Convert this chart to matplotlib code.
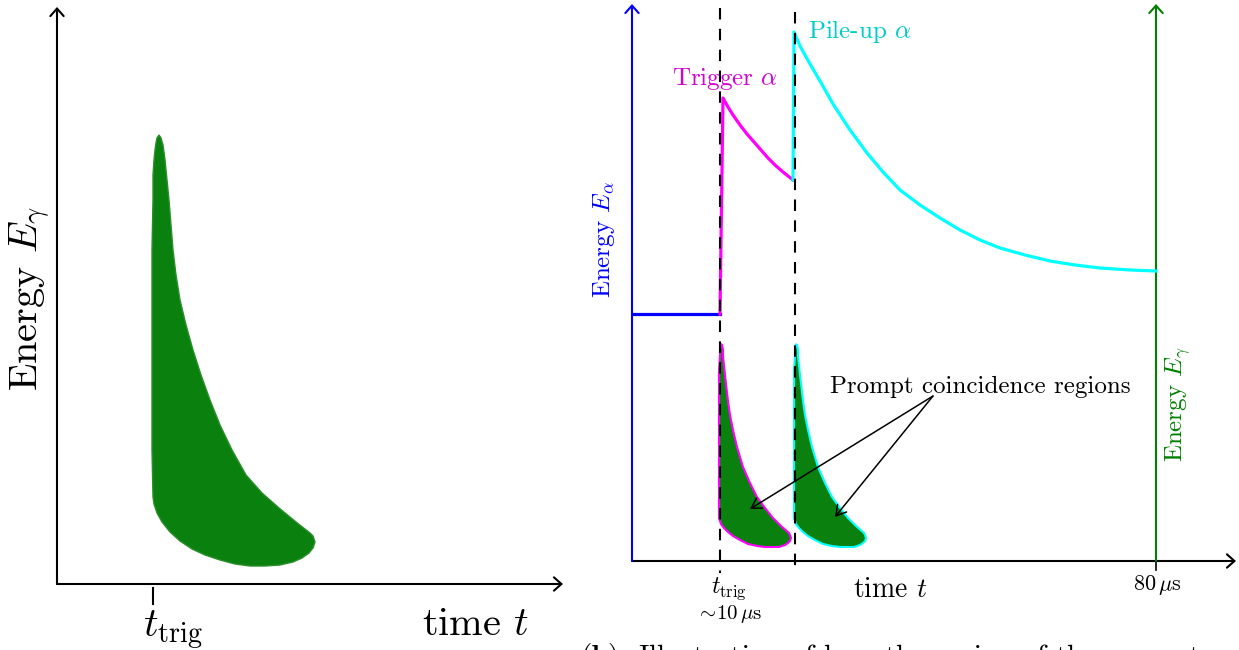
import matplotlib.pyplot as plt

plt.rcParams['font.family'] = ['cmr10', 'DejaVu Serif']
plt.rcParams['mathtext.fontset'] = 'cm'
plt.rcParams['axes.unicode_minus'] = False

W, H = 1239, 650

# ---- left panel: single prompt gamma region (arbitrary units)
left_t_trig = 96
left_blob_t = [96, 95, 95, 95, 95, 95, 96, 96, 97, 98, 99, 100, 102,
               104, 106, 108, 110, 112, 114, 116, 119, 123, 129, 136, 144,
               153, 163, 175, 189, 205, 222, 239, 253,
               256, 258, 256, 252,
               245, 236, 223, 208, 193, 178, 163, 148, 135, 123, 113, 105,
               100, 97]
left_blob_E = [87, 134, 184, 234, 284, 334, 384, 409, 424, 434, 441, 446, 449,
               446, 439, 424, 404, 384, 359, 334, 309, 284, 259, 234, 209,
               184, 159, 134, 109, 91, 76, 62, 51,
               48, 42, 36, 31,
               26, 22, 19, 18, 18, 20, 24, 29, 35, 43, 52, 62,
               71, 80]

# ---- right panel (arbitrary time / energy units)
base_t = [0, 88]
base_E = [247, 247]
trig_t = [88, 91, 96, 101, 108, 115, 122, 129, 136, 143, 151, 161]
trig_E = [247, 463, 454, 446, 436, 427, 419, 411, 403, 396, 389, 381]
pile_t = [161, 162, 168, 178, 188, 201, 218, 235, 251, 268, 288, 308, 328,
          348, 368, 393, 418, 443, 468, 498, 524]
pile_E = [381, 529, 515, 497, 480, 457, 431, 408, 389, 371, 356, 343, 331,
          321, 313, 306, 300, 296, 293, 291, 290]
t_trig = 88
t_pile = 163
t_80us = 524
# prompt region shape relative to alpha onset
blob_t = [-1, -1, -1, -1, -1, 0, 0, 1, 2,
          3, 3, 5, 8, 10, 13, 17, 23, 30, 37, 45, 53, 61, 69,
          70, 71, 70, 68,
          65, 59, 53, 45, 37, 28, 20, 13, 8, 4, 1]
blob_E = [43, 81, 121, 161, 191, 205, 212, 217, 216,
          211, 205, 186, 160, 146, 131, 114, 94, 78, 64, 53, 43, 35, 28,
          26, 23, 20, 18,
          16, 14, 14, 14, 15, 17, 21, 25, 29, 33, 37]
blob_onsets = [t_trig, t_pile]
blob_edges = ['magenta', 'cyan']
label_xy = (301, 165)
arrow_targets = [(118, 52), (203, 44)]

GREEN = '#0a800e'

fig = plt.figure(figsize=(W / 100, H / 100), dpi=100)

def arrow(ax, x0, y0, x1, y1, color='k', lw=1.5, ms=12):
    ax.annotate('', xy=(x1, y1), xytext=(x0, y0), annotation_clip=False,
                arrowprops=dict(arrowstyle='->,head_length=0.45,head_width=0.4',
                                lw=lw, color=color, shrinkA=0, shrinkB=0,
                                mutation_scale=ms))

# left
ax1 = fig.add_axes([57 / W, (H - 584) / H, 505 / W, 576 / H])
ax1.set_xlim(0, 505)
ax1.set_ylim(0, 576)
ax1.axis('off')
arrow(ax1, 0, 0, 506, 0)
arrow(ax1, 0, 0, 0, 577)
ax1.fill(left_blob_t, left_blob_E, facecolor=GREEN, edgecolor='#2a8f2a', lw=1)
ax1.plot([left_t_trig, left_t_trig], [-4, -20], color='k', lw=1.5, clip_on=False)
ax1.text(86, -53, r'$t_{\mathrm{trig}}$', ha='left', va='baseline', fontsize=29)
ax1.text(365, -51, r'time $t$', ha='left', va='baseline', fontsize=29)
ax1.text(-27, 286, r'Energy $E_\gamma$', rotation=90, ha='center', va='center',
         fontsize=29)

# right
ax2 = fig.add_axes([632 / W, (H - 561) / H, 603 / W, 556 / H])
ax2.set_xlim(0, 603)
ax2.set_ylim(0, 556)
ax2.axis('off')
arrow(ax2, 0, 0, 604, 0)
arrow(ax2, 0, 0, 0, 557, color='blue')
arrow(ax2, t_80us, 0, t_80us, 557, color='green')
ax2.plot([t_80us, t_80us], [0, -9], color='k', lw=1.2, clip_on=False)

for onset, ec in zip(blob_onsets, blob_edges):
    ax2.fill([onset + t for t in blob_t], blob_E, facecolor=GREEN,
             edgecolor=ec, lw=1.5, zorder=2)

ax2.plot(base_t, base_E, color='blue', lw=2.3, zorder=3)
ax2.plot(trig_t, trig_E, color='magenta', lw=2.3, zorder=3)
ax2.plot(pile_t, pile_E, color='cyan', lw=2.3, zorder=3)

ax2.plot([t_trig, t_trig], [553, -12], color='k', lw=1.5, ls=(0, (5.5, 4.5)),
         clip_on=False, zorder=4)
ax2.plot([t_pile, t_pile], [549, -9], color='k', lw=1.5, ls=(0, (5.5, 4.5)),
         clip_on=False, zorder=4)

for tx, ty in arrow_targets:
    ax2.annotate('', xy=(tx, ty), xytext=label_xy, zorder=5,
                 arrowprops=dict(arrowstyle='->,head_length=0.5,head_width=0.3',
                                 lw=1.1, color='k', shrinkA=0, shrinkB=0,
                                 mutation_scale=14))
ax2.text(348, 168, 'Prompt coincidence regions', ha='center', va='baseline',
         fontsize=18)
ax2.text(93, 476, r'Trigger $\alpha$', ha='center', va='baseline', fontsize=18,
         color='#d400d4')
ax2.text(176, 523, r'Pile-up $\alpha$', ha='left', va='baseline', fontsize=18,
         color='#00cccc')
ax2.text(-28, 321, r'Energy $E_\alpha$', rotation=90, ha='center', va='center',
         fontsize=18, color='blue')
ax2.text(546, 157, r'Energy $E_\gamma$', rotation=90, ha='center', va='center',
         fontsize=18, color='green')
ax2.text(258, -36, r'time $t$', ha='center', va='baseline', fontsize=20)
ax2.text(t_80us + 1, -24, r'$80\,\mu\mathrm{s}$', ha='center', va='center',
         fontsize=16)
ax2.text(97, -28, r'$t_{\mathrm{trig}}$', ha='center', va='center', fontsize=17)
ax2.text(97, -53, r'$\sim\!10\,\mu\mathrm{s}$', ha='center', va='center',
         fontsize=15)

fig.text(580 / W, (H - 641) / H,
         r'$\mathbf{(b)}$  Illustration of how the region of the prompt',
         ha='left', va='top', fontsize=21)

fig.savefig('out.png', dpi=100)
